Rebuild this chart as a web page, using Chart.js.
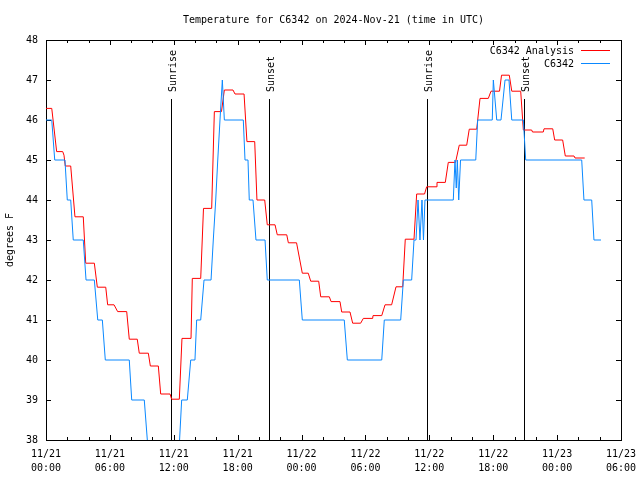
<!DOCTYPE html>
<html>
<head>
<meta charset="utf-8">
<title>Temperature for C6342</title>
<script src="https://cdn.jsdelivr.net/npm/chart.js@4.4.1/dist/chart.umd.min.js"></script>
<style>
  html, body { margin: 0; padding: 0; background: #fff; }
  #wrap { width: 640px; height: 480px; }
</style>
</head>
<body>
<div id="wrap"><canvas id="chart" width="640" height="480"></canvas></div>
<script>
// times are hours since 2024-11-21 00:00 UTC
var analysisHours = [0, 0.54, 1.00, 1.57, 1.69, 1.81, 2.32, 2.72, 3.50, 3.73, 4.54, 4.82, 5.61, 5.79, 6.39, 6.73, 7.58, 7.82, 8.57, 8.76,
	9.61, 9.80, 10.55, 10.77, 11.65, 11.80, 12.52, 12.77, 13.62, 13.74, 14.53, 14.79, 15.56, 15.81, 16.48, 16.75, 17.56, 17.75, 18.60, 18.87,
	19.60, 19.81, 20.54, 20.78, 21.51, 21.72, 22.61, 22.76, 23.53, 24.07, 24.63, 24.86, 25.61, 25.80, 26.61, 26.77, 27.61, 27.77, 28.55, 28.80,
	29.55, 29.80, 30.68, 30.71, 31.53, 31.84, 32.46, 32.87, 33.50, 33.74, 34.56, 34.81, 35.55, 35.75, 36.63, 36.72, 37.50, 37.78, 38.46, 38.81,
	39.51, 39.75, 40.45, 40.76, 41.54, 41.79, 42.59, 42.78, 43.51, 43.74, 44.58, 44.83, 45.61, 45.69, 46.70, 46.77, 47.59, 47.77, 48.52, 48.77,
	49.59, 49.68, 50.59];
var analysisTemps = [46.29, 46.29, 45.21, 45.21, 45.12, 44.85, 44.85, 43.58, 43.58, 42.42, 42.42, 41.82, 41.82, 41.38, 41.38, 41.21, 41.21, 40.52, 40.52, 40.17,
	40.17, 39.85, 39.85, 39.15, 39.15, 39.02, 39.02, 40.54, 40.54, 42.04, 42.04, 43.79, 43.79, 46.21, 46.21, 46.75, 46.75, 46.65, 46.65, 45.46,
	45.46, 44.00, 44.00, 43.38, 43.38, 43.13, 43.13, 42.93, 42.93, 42.17, 42.17, 41.97, 41.97, 41.58, 41.58, 41.46, 41.46, 41.20, 41.20, 40.92,
	40.92, 41.04, 41.04, 41.11, 41.11, 41.38, 41.38, 41.83, 41.83, 43.02, 43.02, 44.15, 44.15, 44.33, 44.33, 44.44, 44.44, 44.94, 44.94, 45.37,
	45.37, 45.77, 45.77, 46.54, 46.54, 46.72, 46.72, 47.12, 47.12, 46.72, 46.72, 45.75, 45.75, 45.70, 45.70, 45.78, 45.78, 45.50, 45.50, 45.10,
	45.10, 45.05, 45.05];

var obsHours = [0, 0.54, 0.82, 1.78, 2.00, 2.32, 2.56, 3.50, 3.76, 4.54, 4.86, 5.29, 5.57, 7.82, 8.05, 9.23, 9.80, 12.35, 12.74, 13.27,
	13.59, 13.99, 14.15, 14.53, 14.84, 15.50, 15.71, 15.94, 16.13, 16.34, 16.56, 16.75, 18.53, 18.69, 18.97, 19.09, 19.44, 19.72, 20.57, 20.78,
	23.79, 24.07, 28.01, 28.30, 31.53, 31.77, 33.31, 33.56, 34.34, 34.56, 34.75, 34.94, 35.12, 35.31, 35.45, 35.59, 38.25, 38.41, 38.53, 38.63,
	38.76, 38.93, 40.36, 40.54, 41.91, 42.01, 42.33, 42.73, 43.11, 43.48, 43.74, 44.83, 45.05, 50.31, 50.52, 51.25, 51.46, 52.12];
var obsTemps = [46, 46, 45, 45, 44, 44, 43, 43, 42, 42, 41, 41, 40, 40, 39, 39, 37, 37, 39, 39,
	40, 40, 41, 41, 42, 42, 43, 44, 45, 46, 47, 46, 46, 45, 45, 44, 44, 43, 43, 42,
	42, 41, 41, 40, 40, 41, 41, 42, 42, 43, 43, 44, 43, 44, 43, 44, 44, 45, 44.3, 45,
	44, 45, 45, 46, 46, 47, 46, 46, 47, 47, 46, 46, 45, 45, 44, 44, 43, 43];

var eventHours = [11.74, 20.97, 35.81, 44.92];
var eventLabels = ['Sunrise', 'Sunset', 'Sunrise', 'Sunset'];

var dayLabels = ['11/21', '11/22', '11/23'];
var seriesNames = ['C6342 Analysis', 'C6342'];
var seriesColors = ['#ff0000', '#0a88ff'];
var chartTitle = 'Temperature for C6342 on 2024-Nov-21 (time in UTC)';
var yTitle = 'degrees F';

var FONT = '10px "DejaVu Sans Mono"';

function toPoints(xs, ys) {
	var pts = [];
	for (var i = 0; i < xs.length; i++) pts.push({ x: xs[i], y: ys[i] });
	return pts;
}

function pad2(n) { return (n < 10 ? '0' : '') + n; }

// border, inward tics, sun events, title and key in the gnuplot manner
var gnuplotLook = {
	id: 'gnuplotLook',
	beforeDatasetsDraw: function(chart) {
		var ctx = chart.ctx, a = chart.chartArea;
		var xs = chart.scales.x, ys = chart.scales.y;
		ctx.save();
		ctx.strokeStyle = '#000';
		ctx.lineWidth = 1;
		ctx.strokeRect(Math.round(a.left) + 0.5, Math.round(a.top) + 0.5, Math.round(a.right - a.left), Math.round(a.bottom - a.top));

		ctx.beginPath();
		xs.ticks.forEach(function(t) {
			var px = Math.round(xs.getPixelForValue(t.value)) + 0.5;
			var len = (t.value % 6 === 0) ? 5 : 3;
			ctx.moveTo(px, a.bottom); ctx.lineTo(px, a.bottom - len);
			ctx.moveTo(px, a.top); ctx.lineTo(px, a.top + len);
		});
		ys.ticks.forEach(function(t) {
			var py = Math.round(ys.getPixelForValue(t.value)) + 0.5;
			ctx.moveTo(a.left, py); ctx.lineTo(a.left + 5, py);
			ctx.moveTo(a.right, py); ctx.lineTo(a.right - 5, py);
		});
		ctx.stroke();

		// sunrise / sunset markers
		ctx.font = FONT;
		ctx.fillStyle = '#000';
		for (var i = 0; i < eventHours.length; i++) {
			var ex = Math.round(xs.getPixelForValue(eventHours[i])) + 0.5;
			ctx.beginPath();
			ctx.moveTo(ex, a.top + 59);
			ctx.lineTo(ex, a.bottom);
			ctx.stroke();
			ctx.save();
			ctx.translate(ex + 1.5, a.top + 52);
			ctx.rotate(-Math.PI / 2);
			ctx.textAlign = 'left';
			ctx.textBaseline = 'middle';
			ctx.fillText(eventLabels[i], 0, 0);
			ctx.restore();
		}
		ctx.restore();
	},
	afterDraw: function(chart) {
		var ctx = chart.ctx, a = chart.chartArea;
		ctx.save();
		ctx.font = FONT;
		ctx.fillStyle = '#000';
		ctx.textAlign = 'center';
		ctx.textBaseline = 'middle';
		ctx.fillText(chartTitle, (a.left + a.right) / 2, 20);

		// key, top right
		ctx.textAlign = 'right';
		for (var i = 0; i < seriesNames.length; i++) {
			var ky = Math.round(a.top + 10 + i * 13) + 0.5;
			ctx.fillText(seriesNames[i], a.right - 47, ky + 1);
			ctx.strokeStyle = seriesColors[i];
			ctx.lineWidth = 1;
			ctx.beginPath();
			ctx.moveTo(a.right - 40, ky);
			ctx.lineTo(a.right - 11, ky);
			ctx.stroke();
		}
		ctx.restore();
	}
};

Chart.defaults.font.family = '"DejaVu Sans Mono"';
Chart.defaults.font.size = 10;
Chart.defaults.color = '#000';

var chart = new Chart(document.getElementById('chart'), {
	type: 'line',
	data: {
		datasets: [
			{ label: seriesNames[0], data: toPoints(analysisHours, analysisTemps), borderColor: seriesColors[0], borderWidth: 1, pointRadius: 0, tension: 0, fill: false, order: 1 },
			{ label: seriesNames[1], data: toPoints(obsHours, obsTemps), borderColor: seriesColors[1], borderWidth: 1, pointRadius: 0, tension: 0, fill: false, order: 0 }
		]
	},
	options: {
		responsive: false,
		animation: false,
		events: [],
		layout: { padding: { top: 40, right: 19, left: 0, bottom: 0 } },
		plugins: { legend: { display: false }, tooltip: { enabled: false }, title: { display: false } },
		scales: {
			x: {
				type: 'linear', min: 0, max: 54,
				grid: { display: false, drawTicks: false },
				border: { display: false },
				ticks: {
					stepSize: 2, autoSkip: false, maxRotation: 0, padding: 8,
					font: { lineHeight: 1.35 },
					callback: function(v) {
						if (v % 6 !== 0) return '';
						var d = Math.floor(v / 24);
						return [dayLabels[d], pad2(v % 24) + ':00'];
					}
				},
				afterFit: function(s) { s.height = 40; s.paddingLeft = 0; s.paddingRight = 0; }
			},
			y: {
				min: 38, max: 48,
				grid: { display: false, drawTicks: false },
				border: { display: false },
				ticks: { stepSize: 1, padding: 8 },
				title: { display: true, text: yTitle, padding: { top: 4, bottom: 0 } },
				afterFit: function(s) { s.width = 46; }
			}
		}
	},
	plugins: [gnuplotLook]
});
</script>
</body>
</html>
